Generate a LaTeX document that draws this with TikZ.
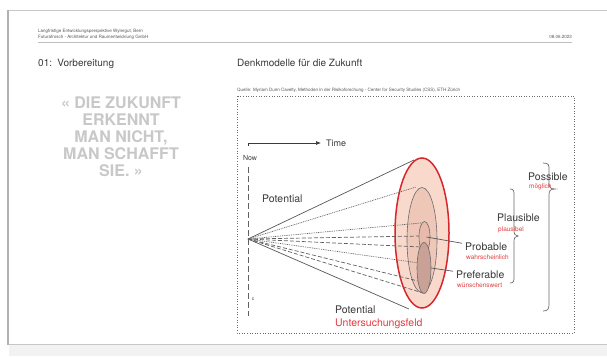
\documentclass[tikz,border=0pt]{standalone}
\usepackage{fontspec}
\setmainfont{TeX Gyre Heros}
\usetikzlibrary{arrows.meta,shapes.geometric}
\definecolor{ink}{HTML}{3A3A3A}
\definecolor{redline}{HTML}{D8262C}
\definecolor{redtext}{HTML}{E23A3C}
\definecolor{outerfill}{HTML}{F8D9CC}
\definecolor{midfill}{HTML}{EEC7B9}
\definecolor{probfill}{HTML}{E7BAAB}
\definecolor{preffill}{HTML}{C9A197}
\definecolor{quotegray}{HTML}{C8C8C8}
\begin{document}
\begin{tikzpicture}[x=1pt,y=-1pt,
    every node/.style={inner sep=0pt,text=ink},
    tiny/.style={font=\fontsize{4.5}{5.5}\selectfont,anchor=base west,text=ink!85},
    head/.style={font=\fontsize{10}{12}\selectfont,anchor=base west},
    lbl/.style={font=\fontsize{10.5}{12}\selectfont,anchor=base west},
    sub/.style={font=\fontsize{6.5}{7}\selectfont,anchor=base west,text=redtext},
    cone/.style={ellipse,draw=ink!75,line width=.6pt},
    brace/.style={draw=ink!75,line width=.7pt}]
    \useasboundingbox (0,0) rectangle (607,356);
    \fill[white] (0,0) rectangle (607,356);
    \fill[black!5] (9,344) rectangle (607,356);
    \draw[black!22,line width=.6pt] (9,10) -- (607,10);
    \draw[black!22,line width=.6pt] (9,344) -- (607,344);
    \draw[black!30,line width=2pt] (8,10) -- (8,345);
    \node[tiny] (head1) at (38,32) {Langfristige Entwicklungsperspektive Wylergut, Bern};
    \node[tiny] (head2) at (38,38) {Futurafrosch - Architektur und Raumentwicklung GmbH};
    \node[tiny,anchor=base east] (date) at (572,38) {08.06.2023};
    \draw[black!25,line width=.8pt] (38,42) -- (572,42);
    \node[head] (chapter) at (38,66) {01:\, Vorbereitung};
    \node[head] (title) at (237,66) {Denkmodelle für die Zukunft};
    \node[font=\bfseries\fontsize{16}{17}\selectfont,text=quotegray,align=center]
        (quote) at (121,137) {« DIE ZUKUNFT\\ERKENNT\\MAN NICHT,\\MAN SCHAFFT\\SIE. »};
    \node[tiny] (source) at (237,91)
        {Quelle: Myriam Dunn Cavelty, Methoden in der Risikoforschung - Center for Security Studies (CSS), ETH Zürich};
    \draw[ink!75,dotted,line width=.6pt] (237,96) rectangle (574,333);
    \coordinate (t0) at (248,143);
    \node[font=\fontsize{9}{10}\selectfont,anchor=west] (time) at (326,143) {Time};
    \draw[ink,line width=.7pt] (248,146) -- (t0);
    \draw[ink,line width=.7pt,-{Latex[length=5pt,width=4pt]}] (t0) -- ([xshift=-5pt]time.west);
    \node[font=\fontsize{7}{8}\selectfont] (now) at (250,158) {Now};
    \draw[ink!80,dash pattern=on 6pt off 3pt,line width=.8pt] (248,167) -- (248,316);
    \node[font=\fontsize{5}{6}\selectfont] (cc) at (253,299) {c};
    \coordinate (apex) at (248,239);
    \node[lbl] (pot1) at (262,202) {Potential};
    \node[lbl] (pot2) at (335,313) {Potential};
    \node[lbl,text=redtext] (field) at (335,326) {Untersuchungsfeld};
    \node[ellipse,fill=outerfill,draw=redline,line width=1.5pt,
        minimum width=54pt,minimum height=150pt] (possE) at (422,233) {};
    \node[cone,fill=midfill,minimum width=30pt,minimum height=105pt] (plauE) at (422,240) {};
    \foreach \p in {(414,160),(409,309)}
        \draw[ink!85,line width=.7pt] (apex) -- \p;
    \foreach \p in {(416,187),(421,223),(419,263)}
        \draw[ink!80,line width=.7pt,dash pattern=on .9pt off .9pt] (apex) -- \p;
    \foreach \p in {(421,236),(421,247),(418,281),(423,293)}
        \draw[ink!80,line width=.7pt,dash pattern=on 4pt off 2pt] (apex) -- \p;
    \node[cone,fill=probfill,minimum width=11pt,minimum height=31pt] (probE) at (424.5,237) {};
    \node[cone,fill=preffill,minimum width=14pt,minimum height=51pt] (prefE) at (424,268) {};
    \node[lbl] (prob) at (465,250) {Probable};
    \node[sub] (probde) at (466,259) {wahrscheinlich};
    \node[lbl] (pref) at (456,278) {Preferable};
    \node[sub] (prefde) at (457,287) {wünschenswert};
    \draw[ink!85,line width=.7pt] ([xshift=2pt]probE.center) -- ([xshift=-3pt,yshift=3pt]prob.west);
    \draw[ink!85,line width=.7pt] (prefE.east) -- ([xshift=-3pt,yshift=3pt]pref.west);
    \draw[brace] (510,189) .. controls (514,189) and (514,191) .. (514,196) -- (514,230)
        .. controls (514,234) and (515,236) .. (518,236) .. controls (515,236) and (514,238) .. (514,242)
        -- (514,276) .. controls (514,281) and (514,283) .. (510,283);
    \draw[brace] (543,163) .. controls (549,163) and (549,165) .. (549,170) -- (549,183)
        .. controls (549,187) and (550,189) .. (555,189) .. controls (550,189) and (549,191) .. (549,195)
        -- (549,304) .. controls (549,309) and (548,311) .. (543,311);
    \node[lbl] (plau) at (497,221) {Plausible};
    \node[sub] (plaude) at (498,231) {plausibel};
    \node[lbl] (poss) at (528,180) {Possible};
    \node[sub] (possde) at (529,188) {möglich};
\end{tikzpicture}
\end{document}
